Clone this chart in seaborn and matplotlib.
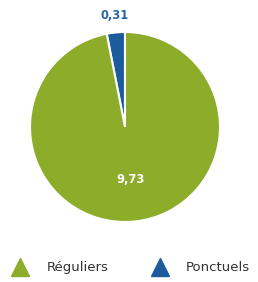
import numpy as np
import matplotlib
matplotlib.use("Agg")
import matplotlib.pyplot as plt
from matplotlib.lines import Line2D
import seaborn as sns

categories = ["Ponctuels", "Réguliers"]
values = [0.31, 9.73]
colors = ["#1c5c9c", "#8cac2a"]
label_colors = ["#2a64a8", "#ffffff"]
label_dist = [1.18, 0.56]

sns.set_theme(style="white")
plt.rcParams['font.family'] = ['DejaVu Sans']

fig = plt.figure(figsize=(2.58, 2.82), dpi=100)
ax = fig.add_axes([30 / 258, 60 / 282, 190 / 258, 190 / 282])

wedges, _ = ax.pie(values, colors=colors, startangle=90, counterclock=True,
                   wedgeprops=dict(edgecolor="white", linewidth=1.5))

for w, v, c, d in zip(wedges, values, label_colors, label_dist):
    ang = np.deg2rad((w.theta1 + w.theta2) / 2)
    ax.text(d * np.cos(ang), d * np.sin(ang), f"{v:.2f}".replace(".", ","),
            ha="center", va="center", color=c, fontsize=8.3, fontweight="bold")

ax.set_xlim(-1, 1)
ax.set_ylim(-1, 1)
ax.set_aspect("equal")
ax.axis("off")

handles = [Line2D([], [], marker="^", linestyle="none", markersize=13,
                  color=colors[1], label=categories[1]),
           Line2D([], [], marker="^", linestyle="none", markersize=13,
                  color=colors[0], label=categories[0])]
fig.legend(handles=handles, loc="center", bbox_to_anchor=(0.499, 0.05), ncol=2,
           frameon=False, fontsize=9.5, columnspacing=2.94, handletextpad=0.97,
           labelcolor="#333333")

fig.savefig("out.png", dpi=100)
